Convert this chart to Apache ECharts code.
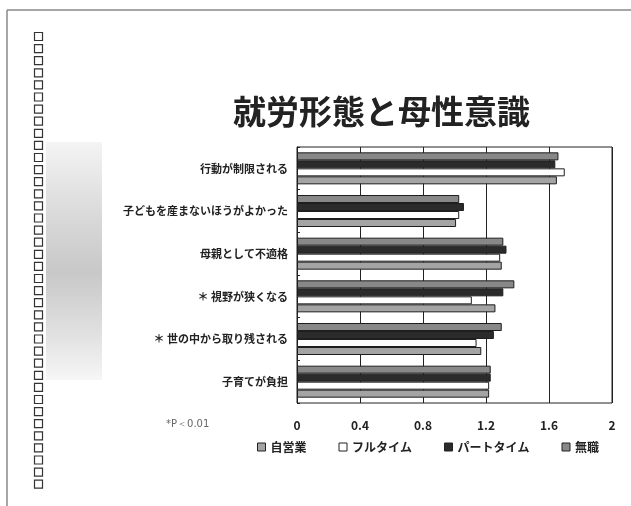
<!DOCTYPE html>
<html>
<head>
<meta charset="utf-8">
<script src="https://cdn.jsdelivr.net/npm/echarts@6/dist/echarts.min.js"></script>
<style>
html, body { margin: 0; padding: 0; background: #fff; }
#chart { width: 631px; height: 506px; }
</style>
</head>
<body>
<div id="chart"></div>
<script>
// categories listed bottom -> top (category axis grows upward)
var categories = ['子育てが負担', '＊ 世の中から取り残される', '＊ 視野が狭くなる', '母親として不適格', '子どもを産まないほうがよかった', '行動が制限される'];
var seriesNames = ['自営業', 'フルタイム', 'パートタイム', '無職'];
var jieiData = [1.22, 1.17, 1.26, 1.30, 1.01, 1.65];
var fullData = [1.22, 1.14, 1.11, 1.29, 1.03, 1.70];
var partData = [1.23, 1.25, 1.31, 1.33, 1.06, 1.64];
var mushokuData = [1.23, 1.30, 1.38, 1.31, 1.03, 1.66];
var xTicks = [0, 0.4, 0.8, 1.2, 1.6, 2];

var fontJP = '"Noto Sans CJK JP", sans-serif';

var chart = echarts.init(document.getElementById('chart'));

function barSeries(name, data, color) {
    return {
        name: name,
        type: 'bar',
        data: data,
        barWidth: 8,
        barGap: '0%',
        itemStyle: {
            color: color,
            borderColor: '#1e1e1e',
            borderWidth: 1
        }
    };
}

// page decoration: frame, shaded strip, column of small boxes, footnote
var deco = [
    { type: 'line', shape: { x1: 7, y1: 10, x2: 631, y2: 10 }, style: { stroke: '#888', lineWidth: 1.5 } },
    { type: 'line', shape: { x1: 7, y1: 10, x2: 7, y2: 506 }, style: { stroke: '#888', lineWidth: 1.5 } },
    {
        type: 'rect',
        shape: { x: 46, y: 142, width: 56, height: 238 },
        style: {
            fill: new echarts.graphic.LinearGradient(0, 0, 0, 1, [
                { offset: 0, color: '#f4f4f4' },
                { offset: 0.3, color: '#dadada' },
                { offset: 0.55, color: '#c8c8c8' },
                { offset: 0.8, color: '#e0e0e0' },
                { offset: 1, color: '#f6f6f6' }
            ])
        }
    },
    {
        type: 'text',
        left: 166,
        top: 419,
        style: {
            text: '*P＜0.01',
            fontFamily: '"DejaVu Sans", sans-serif',
            fontSize: 10,
            fill: '#666'
        }
    }
];
for (var i = 0; i < 38; i++) {
    deco.push({
        type: 'rect',
        shape: { x: 34.5, y: 32.5 + i * 12.1, width: 8, height: 8 },
        style: { fill: 'none', stroke: '#333', lineWidth: 1.2 }
    });
}

chart.setOption({
    animation: false,
    backgroundColor: '#fff',
    title: {
        text: '就労形態と母性意識',
        left: 228,
        top: 90,
        textStyle: {
            fontFamily: fontJP,
            fontSize: 33,
            fontWeight: 'bold',
            color: '#222'
        }
    },
    legend: {
        left: 252,
        top: 436,
        itemWidth: 8,
        itemHeight: 8,
        itemGap: 32,
        icon: 'rect',
        data: seriesNames,
        itemStyle: { borderColor: '#222', borderWidth: 1 },
        textStyle: {
            fontFamily: fontJP,
            fontSize: 12,
            fontWeight: 'bold',
            color: '#222'
        }
    },
    grid: {
        left: 297,
        right: 19,
        top: 147,
        bottom: 103,
        show: true,
        borderColor: '#222',
        borderWidth: 1
    },
    xAxis: {
        type: 'value',
        min: 0,
        max: 2,
        interval: 0.4,
        axisLine: { show: false },
        axisTick: { show: false },
        splitLine: { show: true, lineStyle: { color: '#222', width: 1 } },
        axisLabel: {
            margin: 16,
            fontFamily: fontJP,
            fontSize: 12,
            fontWeight: 'bold',
            color: '#222',
            formatter: function (v) {
                for (var i = 0; i < xTicks.length; i++) {
                    if (Math.abs(xTicks[i] - v) < 1e-6) return String(xTicks[i]);
                }
                return '';
            }
        }
    },
    yAxis: {
        type: 'category',
        data: categories,
        axisLine: { show: true, lineStyle: { color: '#222' } },
        axisTick: { show: true, inside: true, length: 3, lineStyle: { color: '#222' } },
        axisLabel: {
            margin: 9,
            fontFamily: fontJP,
            fontSize: 11,
            fontWeight: 'bold',
            color: '#222'
        }
    },
    // first series is drawn at the top of each group, so list them top -> bottom
    series: [
        barSeries('無職', mushokuData, '#888888'),
        barSeries('パートタイム', partData, '#2b2b2b'),
        barSeries('フルタイム', fullData, '#ffffff'),
        barSeries('自営業', jieiData, '#a4a4a4')
    ],
    graphic: deco
});
</script>
</body>
</html>
